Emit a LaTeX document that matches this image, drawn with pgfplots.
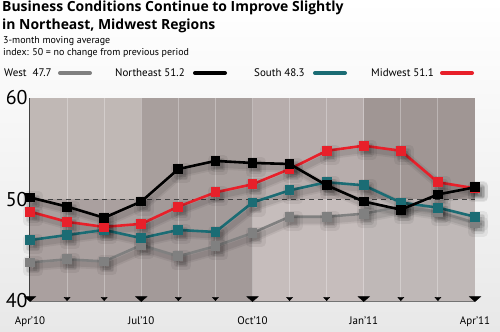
\documentclass[border=0pt]{standalone}
\usepackage{pgfplots}
\pgfplotsset{compat=1.18}
\usepackage{fontspec}
\setmainfont{PT Sans}
\newfontfamily\titlefont{Open Sans}
\definecolor{westc}{HTML}{808080}
\definecolor{southc}{HTML}{1B6C74}
\definecolor{midc}{HTML}{E8202A}
\definecolor{bgA}{HTML}{C0B8B5}
\definecolor{bgB}{HTML}{A89F9D}
\definecolor{bgC}{HTML}{B7ADAC}
\definecolor{bgD}{HTML}{A09694}
\definecolor{bgE}{HTML}{AAA09F}
\definecolor{bgF}{HTML}{A39A99}
\definecolor{bgG}{HTML}{C6BDBC}
\definecolor{bgH}{HTML}{BFB8B7}
\pgfplotstableread{
x west south midwest northeast
0 43.8 46.0 48.8 50.2
1 44.1 46.5 47.8 49.3
2 43.9 47.0 47.3 48.2
3 45.5 46.2 47.6 49.8
4 44.4 47.0 49.3 53.0
5 45.4 46.8 50.7 53.8
6 46.7 49.7 51.5 53.6
7 48.3 50.9 53.0 53.5
8 48.3 51.7 54.8 51.4
9 48.6 51.4 55.3 49.8
10 49.3 49.7 54.8 49.0
11 48.8 49.2 51.7 50.5
12 47.7 48.3 51.1 51.2
}\datatable
\begin{document}
\begin{tikzpicture}
\shade[top color=white, bottom color=black!9] (0bp,0bp) rectangle (500bp,332bp);
\node[anchor=north west, inner sep=0, align=left, font=\titlefont\fontsize{14}{18}\selectfont\bfseries] at (2bp,331bp) {Business Conditions Continue to Improve Slightly\\in Northeast, Midwest Regions};
\node[anchor=base west, inner sep=0, font=\fontsize{10}{11}\selectfont] at (3bp,288bp) {3-month moving average};
\node[anchor=base west, inner sep=0, font=\fontsize{10}{11}\selectfont] at (3bp,276bp) {index: 50 = no change from previous period};
\begin{scope}[font=\fontsize{11}{13}\selectfont]
\node[anchor=base west, inner sep=0] at (4bp,255bp) {West\ \ 47.7};
\draw[westc, line width=4bp, line cap=round] (60bp,259bp)--(90bp,259bp);
\node[anchor=base west, inner sep=0] at (115bp,255bp) {Northeast 51.2};
\draw[black, line width=4bp, line cap=round] (195bp,259bp)--(225bp,259bp);
\node[anchor=base west, inner sep=0] at (254bp,255bp) {South 48.3};
\draw[southc, line width=4bp, line cap=round] (315bp,259bp)--(345bp,259bp);
\node[anchor=base west, inner sep=0] at (371bp,255bp) {Midwest 51.1};
\draw[midc, line width=4bp, line cap=round] (442bp,259bp)--(472bp,259bp);
\end{scope}
\begin{axis}[at={(30bp,31bp)}, anchor=south west, scale only axis,
  width=445bp, height=203bp,
  xmin=0, xmax=12, ymin=40, ymax=60, clip=false,
  axis x line*=bottom, axis y line*=left,
  axis line style={black!75, line width=1.2bp, -},
  x axis line style={black!55},
  major tick length=0pt,
  ytick={40,50,60}, yticklabels={40,50,60},
  yticklabel style={font=\fontsize{20}{20}\selectfont, xshift=1bp},
  xtick={0,3,6,9,12}, xticklabels={Apr’10,Jul’10,Oct’10,Jan’11,Apr’11},
  xticklabel style={font=\fontsize{11}{13}\selectfont, yshift=-12bp},
  ]
\fill[bgA] (axis cs:0,50) rectangle (axis cs:3,60);
\fill[bgB] (axis cs:3,50) rectangle (axis cs:6,60);
\fill[bgC] (axis cs:6,50) rectangle (axis cs:9,60);
\fill[bgD] (axis cs:9,50) rectangle (axis cs:12,60);
\fill[bgE] (axis cs:0,40) rectangle (axis cs:3,50);
\fill[bgF] (axis cs:3,40) rectangle (axis cs:6,50);
\fill[bgG] (axis cs:6,40) rectangle (axis cs:9,50);
\fill[bgH] (axis cs:9,40) rectangle (axis cs:12,50);
\pgfplotsinvokeforeach{1,...,11}{\draw[white, opacity=0.3, line width=1bp] (axis cs:#1,40)--(axis cs:#1,60);}
\addplot[black!75, line width=0.8bp, dash pattern=on 5bp off 4bp] coordinates {(0,50) (12,50)};
\addplot[only marks, mark=triangle*, mark size=3.5bp, black, mark options={rotate=180, yscale=0.65, yshift=-4bp}] coordinates {(1,40)(2,40)(4,40)(5,40)(7,40)(8,40)(10,40)(11,40)};
\addplot[only marks, mark=triangle*, mark size=6bp, black, mark options={rotate=180, yscale=0.55, xscale=1.1, yshift=-5bp}] coordinates {(0,40)(3,40)(6,40)(9,40)(12,40)};
\pgfplotsset{
  sh1/.style={black, opacity=0.06, line width=9bp, line join=round, xshift=3bp, yshift=-4bp, mark=square*, mark size=5.5bp, forget plot},
  sh2/.style={black, opacity=0.08, line width=5.5bp, line join=round, xshift=3bp, yshift=-4bp, mark=square*, mark size=4.2bp, forget plot}}
\foreach \s in {west,south,midwest,northeast}{
  \addplot[sh1] table[x=x, y=\s] {\datatable};
  \addplot[sh2] table[x=x, y=\s] {\datatable};
}
\pgfplotsset{ser/.style={line width=2.6bp, mark=square*, mark size=3.6bp, mark options={solid}}}
\addplot[ser, westc] table[x=x, y=west] {\datatable};
\addplot[ser, southc] table[x=x, y=south] {\datatable};
\addplot[ser, midc] table[x=x, y=midwest] {\datatable};
\addplot[ser, black] table[x=x, y=northeast] {\datatable};
\end{axis}
\path[use as bounding box] (0bp,0bp) rectangle (500bp,332bp);
\end{tikzpicture}
\end{document}
